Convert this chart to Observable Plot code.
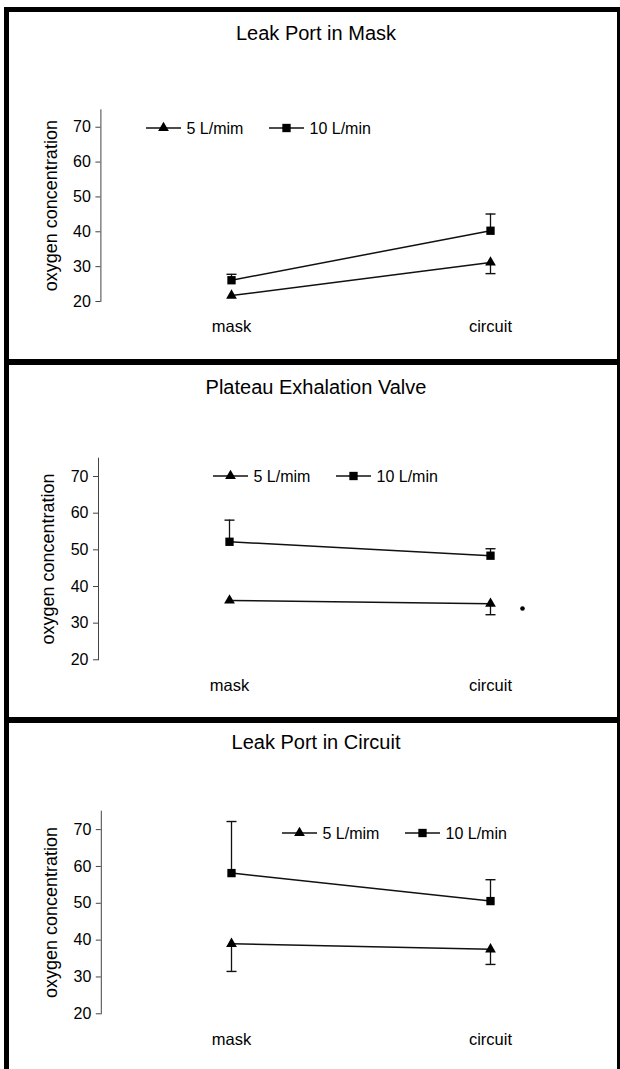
<!DOCTYPE html>
<html><head><meta charset="utf-8">
<script src="https://cdn.jsdelivr.net/npm/d3@7"></script>
<script src="https://cdn.jsdelivr.net/npm/@observablehq/plot@0.6"></script>
<style>
html,body{margin:0;padding:0;background:#fff;}
#page{position:relative;width:620px;height:1069px;overflow:hidden;font-family:"Liberation Sans",Arial,sans-serif;color:#000;}
.bar{position:absolute;background:#000;}
.panel{position:absolute;left:0;width:620px;}
.title{position:absolute;left:0;width:632px;text-align:center;font-size:20px;line-height:20px;}
.legend{position:absolute;}
</style></head><body><div id="page"></div>
<script>
// ---- data ----
const categories = ["mask", "circuit"];
const panelTitles = ["Leak Port in Mask", "Plateau Exhalation Valve", "Leak Port in Circuit"];
const seriesNames = ["5 L/mim", "10 L/min"];
const yLabel = "oxygen concentration";
const yTicks = [20, 30, 40, 50, 60, 70];
const values5 = [[21.7, 31.2], [36.2, 35.3], [39.0, 37.5]];
const errEnd5 = [[null, 28.0], [null, 32.3], [31.5, 33.4]];   // lower error bar ends
const values10 = [[26.1, 40.3], [52.2, 48.4], [58.2, 50.6]];
const errEnd10 = [[27.8, 45.1], [58.1, 50.3], [72.2, 56.4]];  // upper error bar ends
const noteDots = [{panel: 1, cat: "circuit", v: 34}];

// ---- layout ----
const layout = [
  {top: 12,  h: 347, mt: 97.3, mb: 58,   ml: 100.4, titleTop: 23,  legLeft: 146, legY: 128},
  {top: 365, h: 352, mt: 92.7, mb: 57.7, ml: 98,    titleTop: 377, legLeft: 213, legY: 475.7},
  {top: 723, h: 346, mt: 87.7, mb: 55.7, ml: 100.8, titleTop: 732, legLeft: 282, legY: 832.7}
];
const font = '"Liberation Sans", Arial, sans-serif';
const page = document.getElementById("page");

function bar(x, y, w, h) {
  const d = document.createElement("div");
  d.className = "bar";
  Object.assign(d.style, {left: x + "px", top: y + "px", width: w + "px", height: h + "px"});
  page.appendChild(d);
}

const capSymbol = {draw(ctx, size) { const w = Math.sqrt(size / Math.PI); ctx.moveTo(-w, 0); ctx.lineTo(w, 0); }};

layout.forEach((L, i) => {
  const data = [];
  categories.forEach((c, j) => {
    data.push({cat: c, series: seriesNames[0], v: values5[i][j], err: errEnd5[i][j]});
    data.push({cat: c, series: seriesNames[1], v: values10[i][j], err: errEnd10[i][j]});
  });
  const withErr = data.filter(d => d.err != null);
  const notes = noteDots.filter(d => d.panel === i);

  const chart = Plot.plot({
    width: 620, height: L.h,
    marginTop: L.mt, marginBottom: L.mb, marginLeft: L.ml, marginRight: 0,
    x: {type: "point", domain: categories, padding: 0.5, label: null},
    y: {domain: [20, 75], label: null},
    style: {fontFamily: font, background: "transparent", overflow: "visible", color: "#000"},
    marks: [
      Plot.frame({anchor: "left", stroke: "#444", strokeWidth: 1}),
      Plot.axisY({ticks: yTicks, tickSize: 5, tickPadding: 5, fontSize: 16, label: null, stroke: "#444"}),
      Plot.axisX({tickSize: 0, tickPadding: 19, fontSize: 16.5, label: null}),
      Plot.text([yLabel], {text: d => d, frameAnchor: "left", textAnchor: "middle", lineAnchor: "middle", rotate: -90, dx: -50, fontSize: 18, fill: "#000"}),
      Plot.ruleX(withErr, {x: "cat", y1: "v", y2: "err", stroke: "#111", strokeWidth: 1.3}),
      Plot.dot(withErr, {x: "cat", y: "err", symbol: capSymbol, r: 5, stroke: "#111", fill: "none", strokeWidth: 1.4}),
      Plot.line(data, {x: "cat", y: "v", z: "series", stroke: "#111", strokeWidth: 1.5}),
      Plot.dot(data.filter(d => d.series === seriesNames[0]), {x: "cat", y: "v", symbol: "triangle", r: 4, fill: "#000", stroke: "none"}),
      Plot.dot(data.filter(d => d.series === seriesNames[1]), {x: "cat", y: "v", symbol: "square", r: 4.7, fill: "#000", stroke: "none"}),
      Plot.dot(notes, {x: "cat", y: "v", dx: 32, r: 2.3, fill: "#000", stroke: "none"})
    ]
  });
  const panel = document.createElement("div");
  panel.className = "panel";
  panel.style.top = L.top + "px";
  panel.appendChild(chart);
  page.appendChild(panel);

  const t = document.createElement("div");
  t.className = "title";
  t.style.top = L.titleTop + "px";
  t.textContent = panelTitles[i];
  page.appendChild(t);

  // legend
  const ns = "http://www.w3.org/2000/svg";
  const svg = document.createElementNS(ns, "svg");
  svg.setAttribute("width", 260); svg.setAttribute("height", 22);
  svg.setAttribute("class", "legend");
  svg.style.left = L.legLeft + "px";
  svg.style.top = (L.legY - 11) + "px";
  const offsets = [0, 123];
  seriesNames.forEach((s, k) => {
    const x0 = offsets[k];
    const ln = document.createElementNS(ns, "line");
    ln.setAttribute("x1", x0); ln.setAttribute("x2", x0 + 35);
    ln.setAttribute("y1", 11); ln.setAttribute("y2", 11);
    ln.setAttribute("stroke", "#111"); ln.setAttribute("stroke-width", 1.5);
    svg.appendChild(ln);
    const p = document.createElementNS(ns, "path");
    const sym = k === 0 ? d3.symbol(d3.symbolTriangle, Math.PI * 16) : d3.symbol(d3.symbolSquare, Math.PI * 4.7 * 4.7);
    p.setAttribute("d", sym());
    p.setAttribute("transform", `translate(${x0 + 17.5},11)`);
    p.setAttribute("fill", "#000");
    svg.appendChild(p);
    const tx = document.createElementNS(ns, "text");
    tx.setAttribute("x", x0 + 40.5); tx.setAttribute("y", 11);
    tx.setAttribute("dy", "0.36em");
    tx.setAttribute("font-size", 16);
    tx.setAttribute("font-family", font);
    tx.textContent = s;
    svg.appendChild(tx);
  });
  page.appendChild(svg);
});

// frame borders
bar(4, 7, 616, 5);
bar(4, 7, 5, 1062);
bar(617, 7, 3, 1062);
bar(4, 359, 616, 6);
bar(4, 717, 616, 6);
</script></body></html>
